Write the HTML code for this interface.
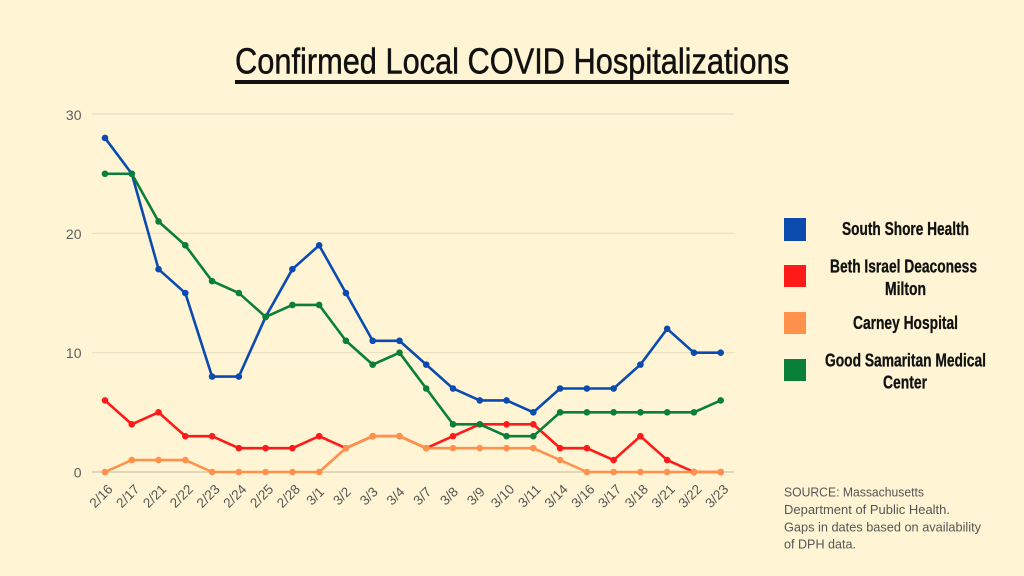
<!DOCTYPE html>
<html>
<head>
<meta charset="utf-8">
<style>
  html, body { margin: 0; padding: 0; background: #fff5d4; }
  body { width: 1024px; height: 576px; overflow: hidden; }
  svg { display: block; }
  .ylab { font-family: "Liberation Sans", sans-serif; font-size: 14px; fill: #5e5e5e; }
  .xlab { font-family: "Liberation Sans", sans-serif; font-size: 13.5px; fill: #555; }
  .leg { font-family: "Liberation Sans", sans-serif; font-size: 18px; font-weight: bold; fill: #111; stroke: #111; stroke-width: 0.3; }
  .src { font-family: "Liberation Sans", sans-serif; font-size: 13px; fill: #555; }
</style>
</head>
<body>
<svg width="1024" height="576" viewBox="0 0 1024 576" xmlns="http://www.w3.org/2000/svg">
  <defs>
    <marker id="mb" markerUnits="userSpaceOnUse" markerWidth="8" markerHeight="8" refX="4" refY="4"><circle cx="4" cy="4" r="3.3" fill="#0b4bb0"/></marker>
    <marker id="mr" markerUnits="userSpaceOnUse" markerWidth="8" markerHeight="8" refX="4" refY="4"><circle cx="4" cy="4" r="3.3" fill="#ff1a1a"/></marker>
    <marker id="mo" markerUnits="userSpaceOnUse" markerWidth="8" markerHeight="8" refX="4" refY="4"><circle cx="4" cy="4" r="3.3" fill="#ff914d"/></marker>
    <marker id="mg" markerUnits="userSpaceOnUse" markerWidth="8" markerHeight="8" refX="4" refY="4"><circle cx="4" cy="4" r="3.3" fill="#0a7f37"/></marker>
  </defs>
  <rect x="0" y="0" width="1024" height="576" fill="#fff5d4"/>

  <!-- Title -->
  <text x="235" y="73.5" font-family="Liberation Sans, sans-serif" font-size="36" fill="#111" stroke="#111" stroke-width="0.5" textLength="554" lengthAdjust="spacingAndGlyphs">Confirmed Local COVID Hospitalizations</text>
  <rect x="235" y="80" width="554" height="4" fill="#111"/>

  <!-- Gridlines -->
  <line x1="92" y1="114" x2="734" y2="114" stroke="#e8dfc2" stroke-width="1.2"/>
  <line x1="92" y1="233.3" x2="734" y2="233.3" stroke="#e8dfc2" stroke-width="1.2"/>
  <line x1="92" y1="352.7" x2="734" y2="352.7" stroke="#e8dfc2" stroke-width="1.2"/>
  <line x1="92" y1="472" x2="734" y2="472" stroke="#d5ccb2" stroke-width="1.6"/>

  <!-- Y labels -->
  <text class="ylab" x="81.5" y="120" text-anchor="end">30</text>
  <text class="ylab" x="81.5" y="239" text-anchor="end">20</text>
  <text class="ylab" x="81.5" y="358" text-anchor="end">10</text>
  <text class="ylab" x="81.5" y="477.5" text-anchor="end">0</text>

  <!-- Series -->
  <g fill="none" stroke-width="2.6" stroke-linejoin="round">
    <polyline stroke="#0b4bb0" marker-start="url(#mb)" marker-mid="url(#mb)" marker-end="url(#mb)"
      points="105,137.96 131.77,173.75 158.54,269.19 185.31,293.05 212.08,376.56 238.85,376.56 265.62,316.91 292.39,269.19 319.16,245.33 345.93,293.05 372.7,340.77 399.47,340.77 426.24,364.63 453.01,388.49 479.78,400.42 506.55,400.42 533.32,412.35 560.09,388.49 586.86,388.49 613.63,388.49 640.4,364.63 667.17,328.84 693.94,352.7 720.71,352.7"/>
    <polyline stroke="#ff1a1a" marker-start="url(#mr)" marker-mid="url(#mr)" marker-end="url(#mr)"
      points="105,400.42 131.77,424.28 158.54,412.35 185.31,436.21 212.08,436.21 238.85,448.14 265.62,448.14 292.39,448.14 319.16,436.21 345.93,448.14 372.7,436.21 399.47,436.21 426.24,448.14 453.01,436.21 479.78,424.28 506.55,424.28 533.32,424.28 560.09,448.14 586.86,448.14 613.63,460.07 640.4,436.21 667.17,460.07 693.94,472 720.71,472"/>
    <polyline stroke="#ff914d" marker-start="url(#mo)" marker-mid="url(#mo)" marker-end="url(#mo)"
      points="105,472 131.77,460.07 158.54,460.07 185.31,460.07 212.08,472 238.85,472 265.62,472 292.39,472 319.16,472 345.93,448.14 372.7,436.21 399.47,436.21 426.24,448.14 453.01,448.14 479.78,448.14 506.55,448.14 533.32,448.14 560.09,460.07 586.86,472 613.63,472 640.4,472 667.17,472 693.94,472 720.71,472"/>
    <polyline stroke="#0a7f37" marker-start="url(#mg)" marker-mid="url(#mg)" marker-end="url(#mg)"
      points="105,173.75 131.77,173.75 158.54,221.47 185.31,245.33 212.08,281.12 238.85,293.05 265.62,316.91 292.39,304.98 319.16,304.98 345.93,340.77 372.7,364.63 399.47,352.7 426.24,388.49 453.01,424.28 479.78,424.28 506.55,436.21 533.32,436.21 560.09,412.35 586.86,412.35 613.63,412.35 640.4,412.35 667.17,412.35 693.94,412.35 720.71,400.42"/>
  </g>

  <!-- X labels -->
  <g class="xlab" text-anchor="middle">
    <text transform="translate(104.3,499.3) rotate(-45)">2/16</text>
    <text transform="translate(131.07,499.3) rotate(-45)">2/17</text>
    <text transform="translate(157.84,499.3) rotate(-45)">2/21</text>
    <text transform="translate(184.61,499.3) rotate(-45)">2/22</text>
    <text transform="translate(211.38,499.3) rotate(-45)">2/23</text>
    <text transform="translate(238.15,499.3) rotate(-45)">2/24</text>
    <text transform="translate(264.92,499.3) rotate(-45)">2/25</text>
    <text transform="translate(291.69,499.3) rotate(-45)">2/28</text>
    <text transform="translate(318.46,499.3) rotate(-45)">3/1</text>
    <text transform="translate(345.23,499.3) rotate(-45)">3/2</text>
    <text transform="translate(372.0,499.3) rotate(-45)">3/3</text>
    <text transform="translate(398.77,499.3) rotate(-45)">3/4</text>
    <text transform="translate(425.54,499.3) rotate(-45)">3/7</text>
    <text transform="translate(452.31,499.3) rotate(-45)">3/8</text>
    <text transform="translate(479.08,499.3) rotate(-45)">3/9</text>
    <text transform="translate(505.85,499.3) rotate(-45)">3/10</text>
    <text transform="translate(532.62,499.3) rotate(-45)">3/11</text>
    <text transform="translate(559.39,499.3) rotate(-45)">3/14</text>
    <text transform="translate(586.16,499.3) rotate(-45)">3/16</text>
    <text transform="translate(612.93,499.3) rotate(-45)">3/17</text>
    <text transform="translate(639.7,499.3) rotate(-45)">3/18</text>
    <text transform="translate(666.47,499.3) rotate(-45)">3/21</text>
    <text transform="translate(693.24,499.3) rotate(-45)">3/22</text>
    <text transform="translate(720.01,499.3) rotate(-45)">3/23</text>
  </g>

  <!-- Legend -->
  <rect x="784" y="218" width="22" height="23" fill="#0b4bb0"/>
  <rect x="784" y="265" width="22" height="22" fill="#ff1a1a"/>
  <rect x="784" y="312" width="22" height="22" fill="#ff914d"/>
  <rect x="784" y="359" width="22" height="22" fill="#0a7f37"/>

  <text class="leg" x="842" y="235" textLength="127" lengthAdjust="spacingAndGlyphs">South Shore Health</text>
  <text class="leg" x="830" y="272.7" textLength="147" lengthAdjust="spacingAndGlyphs">Beth Israel Deaconess</text>
  <text class="leg" x="885" y="295" textLength="41" lengthAdjust="spacingAndGlyphs">Milton</text>
  <text class="leg" x="853" y="329" textLength="105" lengthAdjust="spacingAndGlyphs">Carney Hospital</text>
  <text class="leg" x="825" y="366.7" textLength="161" lengthAdjust="spacingAndGlyphs">Good Samaritan Medical</text>
  <text class="leg" x="883" y="388.5" textLength="44" lengthAdjust="spacingAndGlyphs">Center</text>

  <!-- Source -->
  <text class="src" x="784" y="496.7" textLength="140" lengthAdjust="spacingAndGlyphs">SOURCE: Massachusetts</text>
  <text class="src" x="784" y="514.2" textLength="166" lengthAdjust="spacingAndGlyphs">Department of Public Health.</text>
  <text class="src" x="784" y="531.5" textLength="197" lengthAdjust="spacingAndGlyphs">Gaps in dates based on availability</text>
  <text class="src" x="784" y="548.5" textLength="72" lengthAdjust="spacingAndGlyphs">of DPH data.</text>
</svg>
</body>
</html>
